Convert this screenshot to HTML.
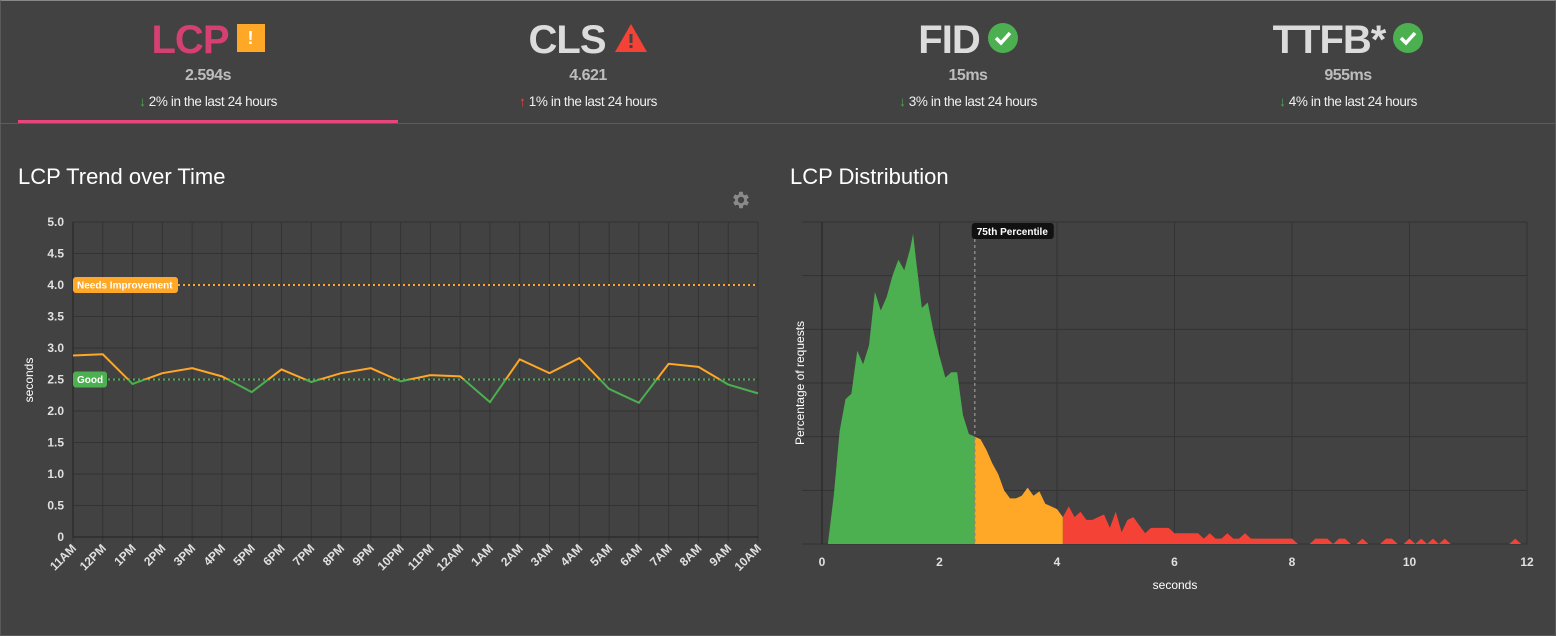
<!DOCTYPE html>
<html><head><meta charset="utf-8">
<style>
body{margin:0;width:1556px;height:636px;background:#424242;font-family:"Liberation Sans",sans-serif;overflow:hidden;position:relative}
.frame{position:absolute;left:0;top:0;width:1554px;height:634px;border:1px solid #5a5a5a;border-top:1px solid #888}
.tab{position:absolute;top:0;width:380px;height:122px;text-align:center}
.tt{position:absolute;top:18px;left:0;right:0;font-size:40px;font-weight:bold;letter-spacing:-1px;color:#dcdcdc;line-height:44px}
.val{position:absolute;top:67px;left:0;right:0;font-size:16px;font-weight:bold;color:#bdbdbd;letter-spacing:-0.5px}
.chg{position:absolute;top:94px;left:0;right:0;font-size:13.5px;color:#f0f0f0;letter-spacing:-0.4px}
.ic{display:inline-block;vertical-align:middle;margin-left:8px;position:relative;top:-4px}
h2{position:absolute;margin:0;font-size:22px;font-weight:normal;color:#fff;top:164px}
svg text{font-family:"Liberation Sans",sans-serif}
</style></head><body>
<div class="frame"></div>
<div class="tab" style="left:18px">
 <div class="tt" style="color:#d63f72">LCP<span class="ic" style="width:28px;height:28px;background:#ffa726;color:#fff;font-size:18px;line-height:28px;letter-spacing:0">!</span></div>
 <div class="val">2.594s</div>
 <div class="chg"><span style="color:#4caf50">↓</span> 2% in the last 24 hours</div>
</div>
<div class="tab" style="left:398px">
 <div class="tt">CLS<svg class="ic" width="34" height="30" viewBox="0 0 34 30"><polygon points="17,1 33,29 1,29" fill="#f44336"/><rect x="15.5" y="11" width="3" height="9" fill="#424242"/><rect x="15.5" y="22" width="3" height="3" fill="#424242"/></svg></div>
 <div class="val">4.621</div>
 <div class="chg"><span style="color:#f44336">↑</span> 1% in the last 24 hours</div>
</div>
<div class="tab" style="left:778px">
 <div class="tt">FID<svg class="ic" width="30" height="30" viewBox="0 0 30 30"><circle cx="15" cy="15" r="15" fill="#4caf50"/><polyline points="8,15 13,20 22,10" fill="none" stroke="#fff" stroke-width="3.5"/></svg></div>
 <div class="val">15ms</div>
 <div class="chg"><span style="color:#4caf50">↓</span> 3% in the last 24 hours</div>
</div>
<div class="tab" style="left:1158px">
 <div class="tt">TTFB*<svg class="ic" width="30" height="30" viewBox="0 0 30 30"><circle cx="15" cy="15" r="15" fill="#4caf50"/><polyline points="8,15 13,20 22,10" fill="none" stroke="#fff" stroke-width="3.5"/></svg></div>
 <div class="val">955ms</div>
 <div class="chg"><span style="color:#4caf50">↓</span> 4% in the last 24 hours</div>
</div>
<div style="position:absolute;left:0;top:123px;width:1556px;height:1px;background:#5c5c5c"></div>
<div style="position:absolute;left:18px;top:120px;width:380px;height:3px;background:#e8457a"></div>
<h2 style="left:18px">LCP Trend over Time</h2>
<h2 style="left:790px">LCP Distribution</h2>
<svg style="position:absolute;left:730px;top:189px" width="22" height="22" viewBox="0 0 24 24"><path fill="#8a8a8a" d="M19.4 13a7.5 7.5 0 0 0 0-2l2.1-1.6-2-3.5-2.5 1a7 7 0 0 0-1.7-1L15 3h-4l-.4 2.9a7 7 0 0 0-1.7 1l-2.5-1-2 3.5L6.6 11a7.5 7.5 0 0 0 0 2l-2.1 1.6 2 3.5 2.5-1a7 7 0 0 0 1.700 1L11 21h4l.4-2.9a7 7 0 0 0 1.7-1l2.5 1 2-3.5zM13 15.5a3.5 3.5 0 1 1 0-7 3.5 3.5 0 0 1 0 7z" transform="translate(-1 0)"/></svg>
<svg id="trend" style="position:absolute;left:0;top:0" width="780" height="636"></svg>
<svg id="dist" style="position:absolute;left:0;top:0" width="1556" height="636"></svg>
<script>
const hours=["11AM","12PM","1PM","2PM","3PM","4PM","5PM","6PM","7PM","8PM","9PM","10PM","11PM","12AM","1AM","2AM","3AM","4AM","5AM","6AM","7AM","8AM","9AM","10AM"];
const lcpValues=[2.88,2.9,2.43,2.6,2.68,2.55,2.3,2.66,2.46,2.6,2.68,2.47,2.57,2.55,2.14,2.82,2.6,2.84,2.35,2.13,2.75,2.7,2.42,2.28];
const yTicks=[0,0.5,1.0,1.5,2.0,2.5,3.0,3.5,4.0,4.5,5.0];
const thresholds=[2.5,4.0];
const distSeconds=[];
const distValues=[0,0,0.9,2.1,2.7,2.8,3.6,3.35,3.7,4.7,4.35,4.6,5.0,5.3,5.1,5.5,5.3,4.4,4.5,3.95,3.5,3.1,3.2,3.2,2.4,2.05,2.0,1.95,1.75,1.5,1.3,1.0,0.85,0.85,0.9,1.05,0.9,0.98,0.75,0.7,0.65,0.5,0.7,0.5,0.6,0.45,0.45,0.5,0.55,0.3,0.6,0.22,0.45,0.5,0.35,0.2,0.3,0.3,0.3,0.3,0.2,0.2,0.2,0.2,0.2,0.1,0.2,0.1,0.1,0.2,0.1,0.1,0.2,0.1,0.1,0.1,0.1,0.1,0.1,0.1,0.1,0,0,0,0.1,0.1,0.1,0,0.1,0.1,0,0,0.1,0,0,0,0.1,0.1,0,0,0.1,0,0.1,0,0.1,0,0.1,0,0,0,0,0,0,0,0,0,0,0,0.1,0,0];
for(let i=0;i<distValues.length;i++)distSeconds.push(+(i*0.1).toFixed(1));
const peakSecond=1.55, peakValue=5.78;
const xTicksDist=[0,2,4,6,8,10,12];
const p75=2.6, poorStart=4.1;
const NS="http://www.w3.org/2000/svg";
function mk(p,t,a){const e=document.createElementNS(NS,t);for(const k in a)e.setAttribute(k,a[k]);p.appendChild(e);return e;}
const T=document.getElementById('trend');
const L=73,R=758,TOP=222,BOT=537;
const tx=i=>L+(R-L)*i/(hours.length-1);
const ty=v=>BOT-(BOT-TOP)*v/5;
yTicks.forEach(v=>{const g=mk(T,'line',{x1:L,x2:R,y1:ty(v),y2:ty(v),stroke:'#333','stroke-width':1});
 const t=mk(T,'text',{x:L-9,y:ty(v)+4,'text-anchor':'end','font-size':12,'font-weight':'bold',fill:'#e0e0e0'});t.textContent=v===0?'0':v.toFixed(1);});
hours.forEach((h,i)=>{const g=mk(T,'line',{x1:tx(i),x2:tx(i),y1:TOP,y2:BOT+5,stroke:'#333'});
 const t=mk(T,'text',{x:tx(i)+4,y:BOT+12,'text-anchor':'end','font-size':12,'font-weight':'bold',fill:'#e0e0e0',transform:`rotate(-45 ${tx(i)+4} ${BOT+12})`});t.textContent=h;});
mk(T,'line',{x1:L,x2:L,y1:TOP,y2:BOT,stroke:'#222'});mk(T,'line',{x1:L,x2:R,y1:BOT,y2:BOT,stroke:'#222'});
const yt=mk(T,'text',{x:33,y:380,'font-size':12,fill:'#fff','text-anchor':'middle',transform:'rotate(-90 33 380)'});yt.textContent='seconds';
[[thresholds[1],'#ffa726','Needs Improvement',105],[thresholds[0],'#4caf50','Good',34]].forEach(([v,c,lab,w])=>{
 const ln=mk(T,'line',{x1:L,x2:R,y1:ty(v),y2:ty(v),stroke:c,'stroke-width':2,'stroke-dasharray':'2,3'});
 const r=mk(T,'rect',{x:L,y:ty(v)-8,width:w,height:16,rx:3,fill:c});
 const t=mk(T,'text',{x:L+4,y:ty(v)+3.5,'font-size':10,'font-weight':'bold',fill:'#fff'});t.textContent=lab;});
const defs=mk(T,'defs',{});
const c1=mk(defs,'clipPath',{id:'above'});mk(c1,'rect',{x:0,y:0,width:780,height:ty(thresholds[0])});
const c2=mk(defs,'clipPath',{id:'below'});mk(c2,'rect',{x:0,y:ty(thresholds[0]),width:780,height:400});
const pts=lcpValues.map((v,i)=>tx(i)+','+ty(v)).join(' ');
const l1=mk(T,'polyline',{points:pts,fill:'none',stroke:'#ffa726','stroke-width':2,'clip-path':'url(#above)'});
const l2=mk(T,'polyline',{points:pts,fill:'none',stroke:'#4caf50','stroke-width':2,'clip-path':'url(#below)'});
const D=document.getElementById('dist');
const DL=822,DR=1527,DT=222,DB=544;
const dx=s=>DL+(DR-DL)*s/12;
const dy=v=>DB-(DB-DT)*v/6;
[0,1,2,3,4,5,6].forEach(v=>{const g=mk(D,'line',{x1:DL-20,x2:DR,y1:dy(v),y2:dy(v),stroke:'#333'});});
xTicksDist.forEach(s=>{const g=mk(D,'line',{x1:dx(s),x2:dx(s),y1:DT,y2:DB,stroke:'#333'});
 const t=mk(D,'text',{x:dx(s),y:DB+22,'text-anchor':'middle','font-size':12,'font-weight':'bold',fill:'#e0e0e0'});t.textContent=s;});
mk(D,'line',{x1:DL,x2:DL,y1:DT,y2:DB,stroke:'#222'});
const xt=mk(D,'text',{x:1175,y:589,'text-anchor':'middle','font-size':12,fill:'#fff'});xt.textContent='seconds';
const yt2=mk(D,'text',{x:804,y:383,'text-anchor':'middle','font-size':12,fill:'#fff',transform:'rotate(-90 804 383)'});yt2.textContent='Percentage of requests';
const dd=mk(D,'defs',{});
const zones=[[0,p75,'#4caf50','good-area'],[p75,poorStart,'#ffa726','needs-improvement-area'],[poorStart,12,'#f44336','poor-area']];
const allPts=distSeconds.map((s,i)=>[s,distValues[i]]);
allPts.push([peakSecond,peakValue]);
allPts.sort((a,b)=>a[0]-b[0]);
const area='M'+dx(0)+','+dy(0)+' '+allPts.map(p=>'L'+dx(p[0])+','+dy(p[1])).join(' ')+' L'+dx(allPts[allPts.length-1][0])+','+dy(0)+'Z';
zones.forEach(([a,b,c,n],k)=>{const cp=mk(dd,'clipPath',{id:'z'+k});mk(cp,'rect',{x:dx(a),y:0,width:dx(b)-dx(a),height:636});
 const p=mk(D,'path',{d:area,fill:c,'clip-path':`url(#z${k})`});});
const pl=mk(D,'line',{x1:dx(p75),x2:dx(p75),y1:DT+17,y2:DB,stroke:'#888','stroke-width':1.5,'stroke-dasharray':'3,3'});
const pr=mk(D,'rect',{x:dx(p75)-3,y:DT+1,width:82,height:16,rx:3,fill:'#111'});
const pt=mk(D,'text',{x:dx(p75)+2,y:DT+13,'font-size':10,'font-weight':'bold',fill:'#fff'});pt.textContent='75th Percentile';
</script>
</body></html>
